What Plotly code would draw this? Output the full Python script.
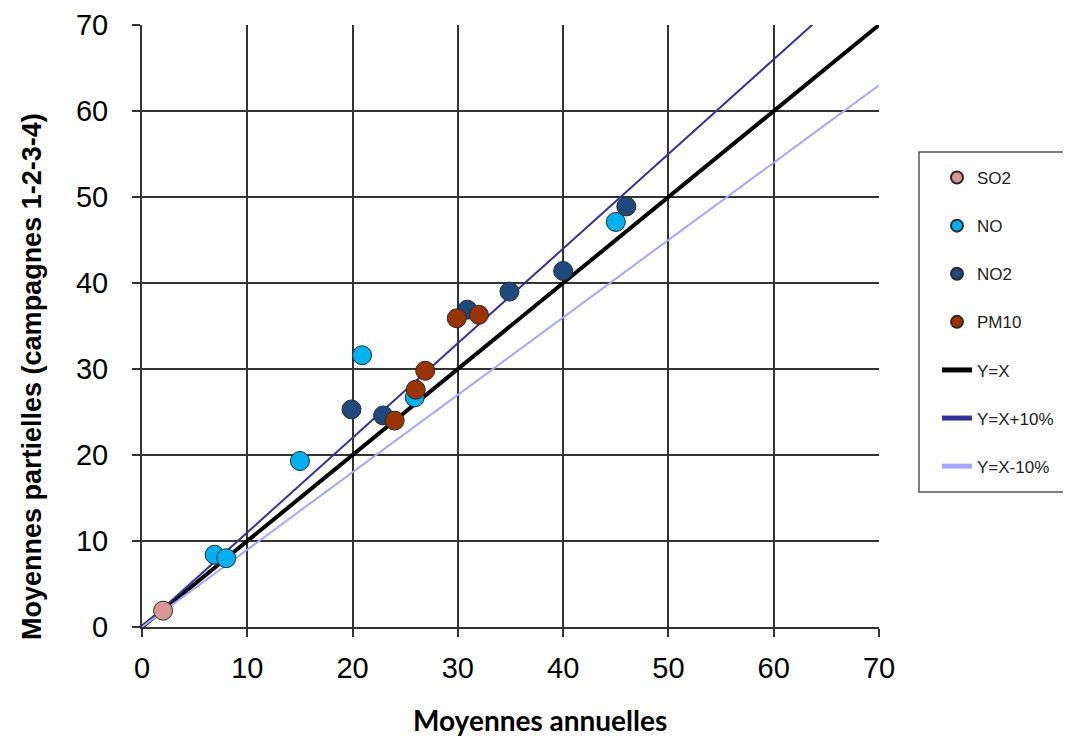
import plotly.graph_objects as go

# Data (x = annual mean, y = partial mean)
so2_x = [2.0]
so2_y = [1.9]
no_x = [6.9, 8.0, 15.0, 20.9, 25.9, 45.0]
no_y = [8.4, 8.0, 19.3, 31.6, 26.7, 47.1]
no2_x = [19.9, 22.9, 30.9, 34.9, 40.0, 46.0]
no2_y = [25.3, 24.6, 36.9, 39.0, 41.4, 48.9]
pm10_x = [24.0, 26.0, 26.9, 29.9, 32.0]
pm10_y = [24.0, 27.6, 29.8, 35.9, 36.3]

line_x = [0, 70]
yx = [0, 70]
yx_plus = [0, 77]
yx_minus = [0, 63]

tick_vals = [0, 10, 20, 30, 40, 50, 60, 70]

x_title = "Moyennes annuelles"
y_title = "Moyennes partielles (campagnes 1-2-3-4)"

fig = go.Figure()

# reference lines (drawn first, under markers)
fig.add_trace(go.Scatter(x=line_x, y=yx, mode="lines", name="Y=X",
                         line=dict(color="black", width=4), legendrank=5, legendgroup="g5"))
fig.add_trace(go.Scatter(x=line_x, y=yx_plus, mode="lines", name="Y=X+10%",
                         line=dict(color="#333399", width=2), legendrank=6, legendgroup="g6"))
fig.add_trace(go.Scatter(x=line_x, y=yx_minus, mode="lines", name="Y=X-10%",
                         line=dict(color="#a6a6ff", width=2), legendrank=7, legendgroup="g7"))

mk_line = dict(color="#2a2a2a", width=1)
fig.add_trace(go.Scatter(x=so2_x, y=so2_y, mode="markers", name="SO2",
                         marker=dict(color="#D99694", size=19, line=mk_line), legendrank=1, legendgroup="g1"))
fig.add_trace(go.Scatter(x=no_x, y=no_y, mode="markers", name="NO",
                         marker=dict(color="#00B0F0", size=19, line=mk_line), legendrank=2, legendgroup="g2"))
fig.add_trace(go.Scatter(x=no2_x, y=no2_y, mode="markers", name="NO2",
                         marker=dict(color="#1F497D", size=19, line=mk_line), legendrank=3, legendgroup="g3"))
fig.add_trace(go.Scatter(x=pm10_x, y=pm10_y, mode="markers", name="PM10",
                         marker=dict(color="#993300", size=19, line=mk_line), legendrank=4, legendgroup="g4"))

axis_common = dict(
    range=[0, 70], tickvals=tick_vals, ticks="outside", ticklen=8, tickwidth=1.5,
    tickcolor="#333", showgrid=True, gridcolor="#333", gridwidth=1.5,
    showline=True, linecolor="#333", linewidth=2, zeroline=False, automargin=False,
    tickfont=dict(family="Liberation Sans, Arial", size=29, color="black"),
)

# page body has an 8px margin: work in page pixels and convert
OFF = 8
W, H = 1071 - OFF, 740 - OFF
ML, MT = 142 - OFF, 25 - OFF
MR = W - (879 - OFF)
MB = H - (627 - OFF)
pw, ph = W - ML - MR, H - MT - MB


def px_x(p):
    return (p - OFF - ML) / pw


def px_y(p):
    return (H - MB - (p - OFF)) / ph


fig.update_layout(
    width=W, height=H,
    margin=dict(l=ML, r=MR, t=MT, b=MB),
    paper_bgcolor="white", plot_bgcolor="white",
    xaxis=dict(**axis_common, ticklabelstandoff=6),
    yaxis=dict(**axis_common, ticklabelstandoff=18),
    legend=dict(x=px_x(937), y=px_y(160), xanchor="left", yanchor="top",
                borderwidth=0, bgcolor="rgba(0,0,0,0)",
                font=dict(family="Liberation Sans, Arial", size=17, color="#222"),
                traceorder="grouped", tracegroupgap=23, itemsizing="constant"),
    shapes=[dict(type="rect", xref="paper", yref="paper",
                 x0=px_x(919), x1=px_x(1069), y0=px_y(492), y1=px_y(152),
                 line=dict(color="#555", width=1.5), fillcolor="rgba(0,0,0,0)", layer="below")],
    annotations=[
        dict(text="<b>" + x_title + "</b>", xref="paper", yref="paper",
             x=px_x(540), y=px_y(720), xanchor="center", yanchor="middle",
             showarrow=False, font=dict(family="Lato", size=28, color="black")),
        dict(text="<b>" + y_title + "</b>", xref="paper", yref="paper",
             x=px_x(32), y=px_y(377), xanchor="center", yanchor="middle", textangle=-90,
             showarrow=False, font=dict(family="Liberation Sans, Arial", size=27, color="black")),
    ],
    showlegend=True,
)

fig.write_html("out.html")
